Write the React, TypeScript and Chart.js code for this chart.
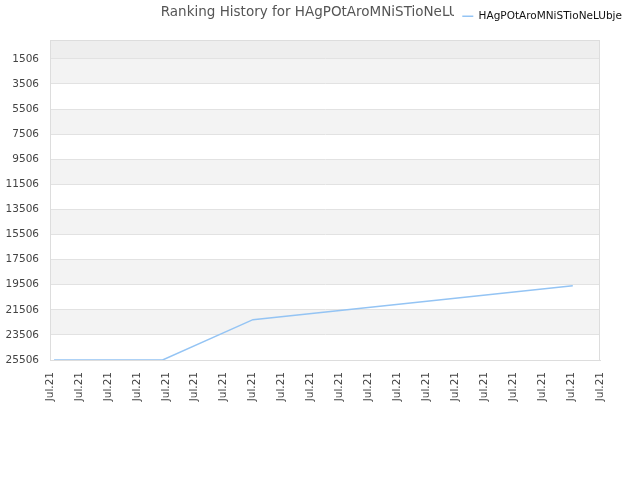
import React, { useEffect, useRef } from "react";
import { Chart, registerables } from "chart.js";

Chart.register(...registerables);

const titleText = "Ranking History for HAgPOtAroMNiSTioNeLUbje";
const seriesName = "HAgPOtAroMNiSTioNeLUbje";
const xTickLabels = [
  "Jul.21", "Jul.21", "Jul.21", "Jul.21", "Jul.21", "Jul.21", "Jul.21", "Jul.21", "Jul.21", "Jul.21",
  "Jul.21", "Jul.21", "Jul.21", "Jul.21", "Jul.21", "Jul.21", "Jul.21", "Jul.21", "Jul.21", "Jul.21",
];
const yTickValues = [1506, 3506, 5506, 7506, 9506, 11506, 13506, 15506, 17506, 19506, 21506, 23506, 25506];
const rankX = [0.14, 3.89, 7.01, 18.06];
const rankY = [25506, 25506, 22290, 19590];

const bandPlugin = {
  id: "bands",
  beforeDraw(chart: any) {
    const { ctx, chartArea } = chart;
    const y = chart.scales.y;
    ctx.save();
    const edges = [y.getPixelForValue(y.min), ...yTickValues.map((v) => y.getPixelForValue(v))];
    for (let i = 0; i < edges.length - 1; i++) {
      const top = Math.min(edges[i], edges[i + 1]);
      const h = Math.abs(edges[i + 1] - edges[i]);
      const color = i === 0 ? "#eeeeee" : i % 2 === 1 ? "#f3f3f3" : "#ffffff";
      ctx.fillStyle = color;
      ctx.fillRect(chartArea.left, top, chartArea.right - chartArea.left, h);
    }
    ctx.restore();
    const lg = chart.legend;
    if (lg) {
      lg.top = 1;
      lg.bottom = 34;
      lg.left = 0;
      lg.right = 632;
    }
    const tb = chart.titleBlock;
    if (tb) {
      tb.left = 0;
      tb.right = 640;
      tb.width = 640;
    }
  },
  afterDraw(chart: any) {
    const { ctx, chartArea } = chart;
    ctx.save();
    ctx.strokeStyle = "#dddddd";
    ctx.lineWidth = 1;
    ctx.strokeRect(chartArea.left + 0.5, chartArea.top + 0.5, chartArea.right - chartArea.left - 1, chartArea.bottom - chartArea.top);
    ctx.fillStyle = "#ffffff";
    ctx.fillRect(454, 0, 640 - 454, 36);
    ctx.restore();
    const lg = chart.legend;
    if (lg) lg.draw();
  },
};

export default function App() {
  const ref = useRef<HTMLCanvasElement | null>(null);
  useEffect(() => {
    if (!ref.current) return;
    Chart.defaults.font.family = "'DejaVu Sans', sans-serif";
    const chart = new Chart(ref.current, {
      type: "line",
      data: {
        datasets: [
          {
            label: seriesName,
            data: rankX.map((x, i) => ({ x, y: rankY[i] })),
            borderColor: "#94c4f4",
            backgroundColor: "#94c4f4",
            borderWidth: 1.5,
            pointRadius: 0,
            tension: 0,
            fill: false,
          },
        ],
      },
      options: {
        responsive: false,
        animation: false,
        layout: { padding: { left: 0, right: 40, top: 0, bottom: 0 } },
        plugins: {
          title: {
            display: true,
            fullSize: true,
            text: titleText,
            color: "#555555",
            font: { size: 13.5, weight: "normal" },
            padding: { top: 4, bottom: 18.8 },
          },
          legend: {
            display: true,
            position: "top",
            align: "end",
            maxHeight: 1,
            labels: {
              color: "#111111",
              font: { size: 10.5 },
              usePointStyle: true,
              pointStyle: "line",
              pointStyleWidth: 11,
              padding: 10,
            },
          },
          tooltip: { enabled: false },
        },
        scales: {
          x: {
            type: "linear",
            min: 0,
            max: xTickLabels.length - 1,
            afterBuildTicks: (scale: any) => {
              scale.ticks = xTickLabels.map((_, i) => ({ value: i }));
            },
            afterFit: (scale: any) => {
              scale.height = 120;
              scale.paddingLeft = 0;
              scale.paddingRight = 0;
            },
            ticks: {
              autoSkip: false,
              maxRotation: 90,
              minRotation: 90,
              padding: 12,
              color: "#444444",
              font: { size: 10.5 },
              callback: (_v: any, i: number) => xTickLabels[i],
            },
            grid: { display: false, drawTicks: false },
            border: { display: true, color: "#dddddd" },
          },
          y: {
            type: "linear",
            reverse: true,
            min: 0,
            max: 25506,
            afterBuildTicks: (scale: any) => {
              scale.ticks = yTickValues.map((v) => ({ value: v }));
            },
            afterFit: (scale: any) => {
              scale.width = 50;
              scale.paddingTop = 0;
              scale.paddingBottom = 0;
            },
            ticks: {
              padding: 11,
              color: "#444444",
              font: { size: 10.5 },
              callback: (v: any) => String(v),
            },
            grid: { color: "#e2e2e2", drawTicks: false },
            border: { display: true, color: "#dddddd" },
          },
        },
      },
      plugins: [bandPlugin],
    });
    return () => chart.destroy();
  }, []);
  return (
    <div style={{ position: "fixed", left: 0, top: 0, width: 640, height: 480, background: "#ffffff" }}>
      <canvas ref={ref} width={640} height={480} />
    </div>
  );
}
